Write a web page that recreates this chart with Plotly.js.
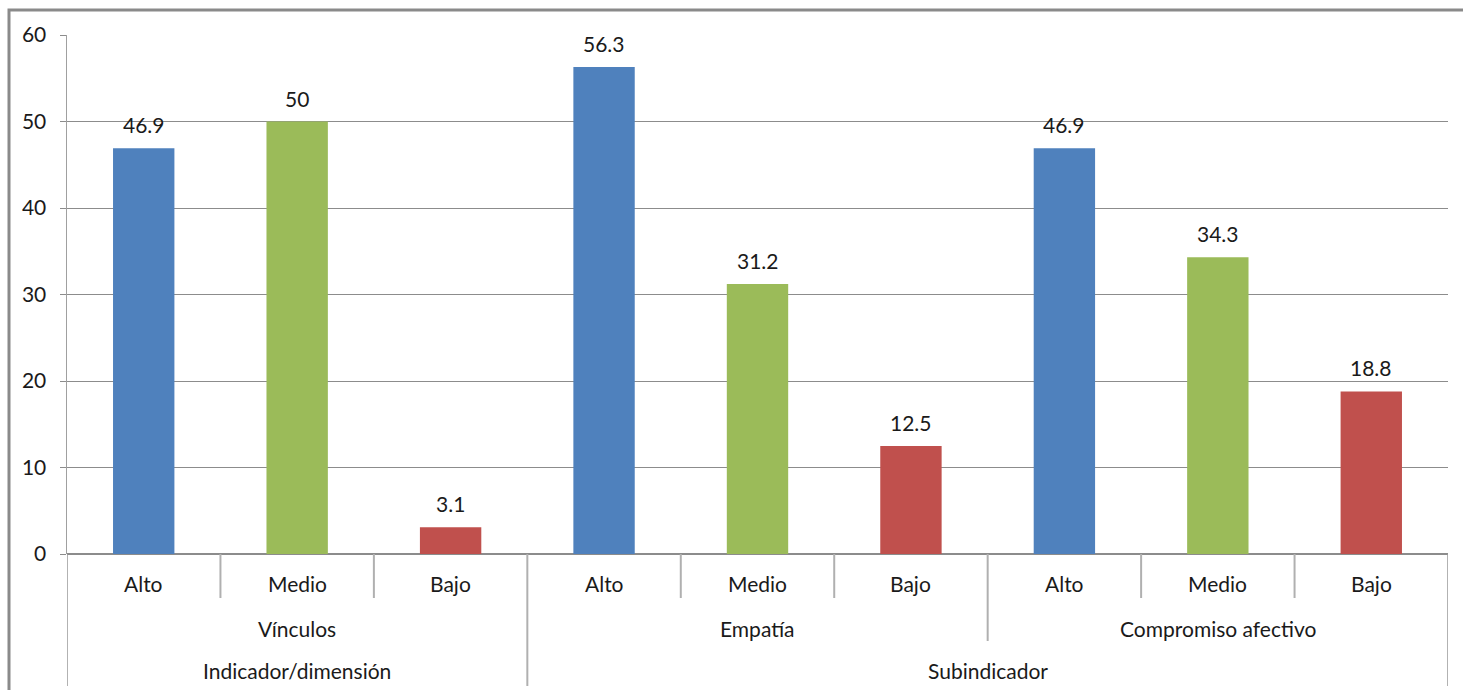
<!DOCTYPE html>
<html>
<head>
<meta charset="utf-8">
<script src="https://cdn.plot.ly/plotly-3.0.1.min.js"></script>
<style>html,body{margin:0;padding:0;background:#fff;}</style>
</head>
<body>
<div id="chart" style="width:1463px;height:690px;"></div>
<script>
// Data
const levels = ["Alto", "Medio", "Bajo", "Alto", "Medio", "Bajo", "Alto", "Medio", "Bajo"];
const groups = ["Vínculos", "Empatía", "Compromiso afectivo"];
const topGroups = ["Indicador/dimensión", "Subindicador"];
const values = [46.9, 50, 3.1, 56.3, 31.2, 12.5, 46.9, 34.3, 18.8];
const valueLabels = ["46.9", "50", "3.1", "56.3", "31.2", "12.5", "46.9", "34.3", "18.8"];
const levelColors = {"Alto": "#4F81BD", "Medio": "#9BBB59", "Bajo": "#C0504D"};

const FONT = "Lato, 'Noto Sans', sans-serif";
const FS = 21;
const TXT = "#1a1a1a";
const GRID = "#8c8c8c";
const xs = levels.map((_, i) => i);

const trace = {
  type: "bar",
  x: xs,
  y: values,
  width: 0.4,
  marker: {color: levels.map(l => levelColors[l])},
  hoverinfo: "skip"
};

const annotations = [];
// value labels
values.forEach((v, i) => {
  annotations.push({x: i, y: v, xref: "x", yref: "y", text: valueLabels[i], showarrow: false,
    yanchor: "bottom", yshift: 9, font: {family: FONT, size: FS, color: TXT}});
});
// level-1 labels
levels.forEach((l, i) => {
  annotations.push({x: i, y: -0.0559, xref: "x", yref: "paper", text: l, showarrow: false,
    yanchor: "middle", font: {family: FONT, size: FS, color: TXT}});
});
// level-2 labels (3 bars each)
groups.forEach((g, j) => {
  annotations.push({x: j * 3 + 1, y: -0.1445, xref: "x", yref: "paper", text: g, showarrow: false,
    yanchor: "middle", font: {family: FONT, size: FS, color: TXT}});
});
// level-3 labels: first spans group 0, second spans groups 1-2
const topSpans = [[-0.5, 2.5], [2.5, 8.5]];
topGroups.forEach((t, k) => {
  annotations.push({x: (topSpans[k][0] + topSpans[k][1]) / 2, y: -0.2254, xref: "x", yref: "paper", text: t,
    showarrow: false, yanchor: "middle", font: {family: FONT, size: FS, color: TXT}});
});

const shapes = [];
const divColor = "#b0b0b0";
// level-1 dividers
for (let i = 0; i < levels.length - 1; i++) {
  const b = i + 0.5;
  let y1 = -0.0848;
  if (b === 5.5) y1 = -0.1676;
  if (b === 2.5) y1 = -0.2543;
  shapes.push({type: "line", xref: "x", yref: "paper", x0: b, x1: b, y0: 0, y1: y1,
    line: {color: divColor, width: 2}});
}
// outer edges
[-0.5, levels.length - 0.5].forEach(b => {
  shapes.push({type: "line", xref: "x", yref: "paper", x0: b, x1: b, y0: 0, y1: -0.2543,
    line: {color: "#999999", width: 1.5}});
});
// chart outer border
shapes.push({type: "rect", xref: "paper", yref: "paper", x0: -58 / 1381, x1: 1.05, y0: 1 + 25 / 519, y1: -0.4,
  line: {color: "#8a8a8a", width: 3}, fillcolor: "rgba(0,0,0,0)"});

const layout = {
  width: 1463, height: 690,
  margin: {l: 67, r: 15, t: 35, b: 136},
  paper_bgcolor: "#ffffff", plot_bgcolor: "#ffffff",
  showlegend: false,
  xaxis: {range: [-0.5, 8.5], showticklabels: false, showgrid: false, zeroline: false,
    ticks: "", showline: false, fixedrange: true},
  yaxis: {range: [0, 60], dtick: 10, tick0: 0, showgrid: true, gridcolor: GRID, gridwidth: 1,
    zeroline: true, zerolinecolor: GRID, zerolinewidth: 1.5,
    showline: true, linecolor: "#a0a0a0", linewidth: 1.5,
    ticks: "outside", ticklen: 6, tickcolor: GRID, ticklabelstandoff: 9,
    tickfont: {family: FONT, size: FS, color: TXT}, fixedrange: true},
  annotations: annotations,
  shapes: shapes
};

Plotly.newPlot("chart", [trace], layout, {displayModeBar: false, staticPlot: true});
</script>
</body>
</html>
